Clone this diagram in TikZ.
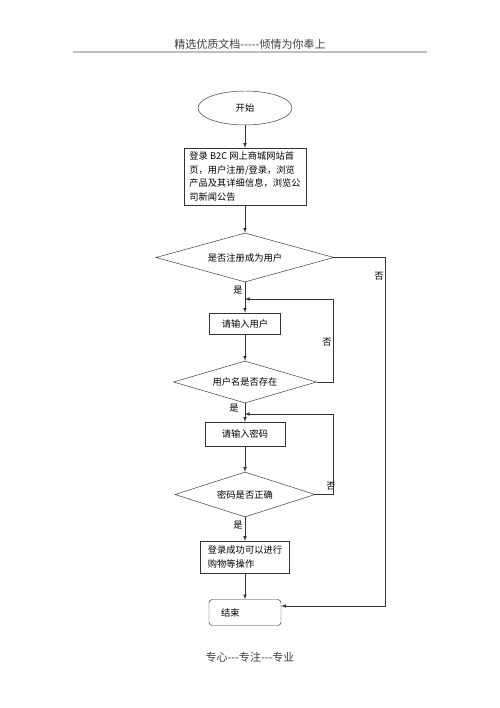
\documentclass[tikz,border=0pt]{standalone}
\usepackage{fontspec}
\newfontfamily\cjk{Noto Sans CJK SC}
\usetikzlibrary{shapes,arrows}

\begin{document}
\begin{tikzpicture}[x=0.3mm,y=-0.3mm,>=latex,
font=\cjk\fontsize{7.9}{11.9}\selectfont,
box/.style={draw=black!80,rectangle,inner sep=0pt,align=left},
choice/.style={draw=black!80,diamond,aspect=3.5,inner sep=0pt},
lbl/.style={inner sep=1pt}]
\useasboundingbox (0,0) rectangle (500,708);
\node[text=black!75,font=\cjk\fontsize{9.4}{11}\selectfont] (hd) at (250,44) {精选优质文档-{}-{}-{}-{}-倾情为你奉上};
\draw[black!25,line width=1.5pt] (73,52) -- (427,52);
\node[draw=black!80,ellipse,minimum width=28.2mm,minimum height=10.2mm,inner sep=0pt] (st) at (245,108) {开始};
\node[box,minimum width=36.6mm,minimum height=17.1mm] (b1) at (245,176.5) {登录 B2C 网上商城网站首\\页，用户注册/登录，浏览\\产品及其详细信息，浏览公\\司新闻公告};
\node[choice,minimum width=53.4mm,minimum height=14.7mm] (d1) at (245,257.5) {是否注册成为用户};
\node[box,minimum width=21.3mm,minimum height=6.3mm] (b2) at (245,323.5) {请输入用户};
\node[choice,minimum width=42.9mm,minimum height=12.6mm] (d2) at (245,382) {用户名是否存在};
\node[box,minimum width=24mm,minimum height=7.2mm] (b3) at (245,434) {请输入密码};
\node[choice,minimum width=42mm,minimum height=13.5mm] (d3) at (245,494.5) {密码是否正确};
\node[box,minimum width=26.7mm,minimum height=9.6mm] (b4) at (245,557) {登录成功可以进行\\购物等操作};
\node[draw=black!80,rounded corners=1mm,text width=14.4mm,inner xsep=3.6mm,inner ysep=0pt,minimum height=7.8mm,align=left] (e) at (245,612.5) {结束};
\node[text=black!75,font=\cjk\fontsize{9.4}{11}\selectfont] (ft) at (250,657) {专心-{}-{}-专注-{}-{}-专业};
\coordinate (j1) at (245,299);
\coordinate (j2) at (245,414);
\node[lbl] (y1) at (238,290) {是};
\node[lbl] (y2) at (234,408) {是};
\node[lbl] (y3) at (238,525) {是};
\node[lbl] (n1) at (379,276) {否};
\node[lbl] (n2) at (327,342) {否};
\node[lbl] (n3) at (331,486) {否};
\draw[black!80,->] (st) -- (b1);
\draw[black!80,->] (b1) -- (d1);
\draw[black!80,->] (d1) -- (b2);
\draw[black!80,->] (b2) -- (d2);
\draw[black!80,->] (d2) -- (b3);
\draw[black!80,->] (b3) -- (d3);
\draw[black!80,->] (d3) -- (b4);
\draw[black!80,->] (b4) -- (e);
\draw[black!80,->] (d2.east) -- ++(16,0) |- (j1);
\draw[black!80,->] (d3.east) -- ++(18,0) |- (j2);
\draw[black!80,->] (d1.east) -- ++(51,0) |- ([yshift=1.95mm]e.east);
\end{tikzpicture}
\end{document}
